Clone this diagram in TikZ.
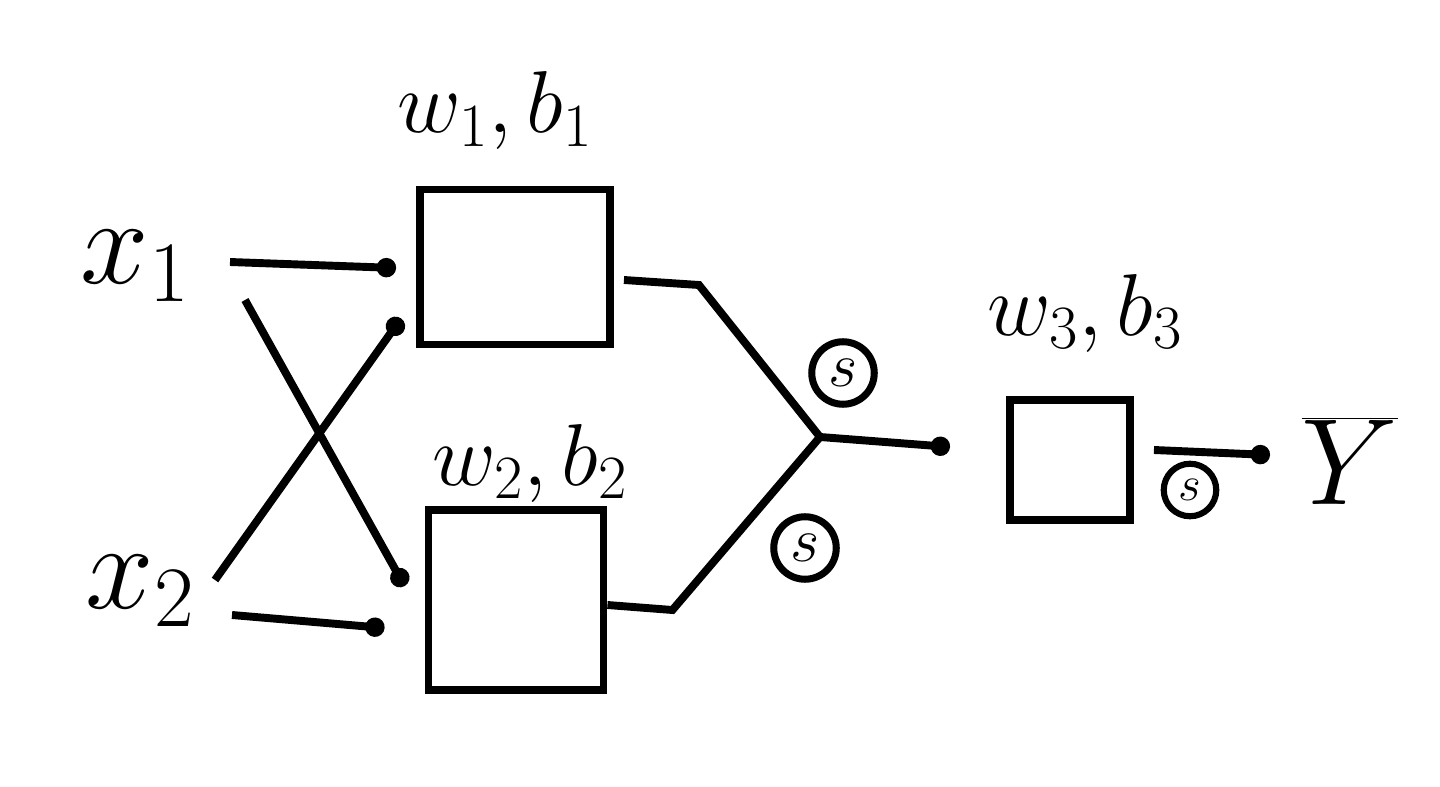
\documentclass[tikz,border=0pt]{standalone}
\usepackage{fix-cm}
\usetikzlibrary{arrows.meta,positioning,calc}

\begin{document}
\begin{tikzpicture}[
  every node/.style={font=\fontsize{50}{56}\selectfont},
  layer/.style={draw, line width=4.5pt, inner sep=0pt},
  conn/.style={-{Circle[length=11pt]}, line width=4.5pt},
  wire/.style={line width=4.5pt},
  sig/.style={draw, circle, line width=4pt, inner sep=0pt, minimum size=1.25cm, font=\fontsize{36}{38}\selectfont}
]
\useasboundingbox (0,0) rectangle (28.8,15.72);

% inputs
\node (x1) at (2.7,10.4) {\fontsize{70}{76}\selectfont$x_1$};
\node (x2) at (2.8,3.9) {\fontsize{70}{76}\selectfont$x_2$};

% hidden layer
\node[layer, minimum width=3.8cm, minimum height=3.1cm] (box1) at (10.3,10.38) {};
\node[layer, minimum width=3.5cm, minimum height=3.6cm] (box2) at (10.32,3.72) {};
\node (wb1) at (9.9,13.5) {$w_1, b_1$};
\node (wb2) at (10.6,6.45) {$w_2, b_2$};

% output layer
\node[layer, minimum width=2.4cm, minimum height=2.4cm] (box3) at (21.4,6.52) {};
\node (wb3) at (21.7,9.45) {$w_3, b_3$};
\node (yhat) at (27.0,6.5) {\fontsize{70}{76}\selectfont$\overline{Y}$};

% free ends of the wires
\coordinate (x1a) at ($(x1)+(1.9,0.08)$);
\coordinate (x1b) at ($(x1)+(2.2,-0.68)$);
\coordinate (x2a) at ($(x2)+(1.5,0.22)$);
\coordinate (x2b) at ($(x2)+(1.84,-0.48)$);
\coordinate (merge) at (16.4,6.98);
\coordinate (in3) at (19.0,6.78);
\coordinate (out3) at (25.4,6.62);

\draw[conn] (x1a) -- ([xshift=-0.4cm,yshift=-0.02cm]box1.west);
\draw[conn] (x1b) -- ([xshift=-0.4cm,yshift=-1.6cm]box2.north west);
\draw[conn] (x2a) -- ([xshift=-0.3cm,yshift=0.6cm]box1.south west);
\draw[conn] (x2b) -- ([xshift=-0.8cm,yshift=-0.56cm]box2.west);

\draw[wire] ([xshift=0.2cm,yshift=-0.26cm]box1.east) -- ++(1.5,-0.1) -- (merge);
\draw[wire] ([xshift=0.0cm,yshift=-0.1cm]box2.east) -- ++(1.3,-0.1) -- (merge);
\draw[conn] (merge) -- (in3);
\draw[conn] ([xshift=0.4cm,yshift=0.2cm]box3.east) -- (out3);

\node[sig] (s1) at (16.86,8.26) {$s$};
\node[sig] (s2) at (16.1,4.76) {$s$};
\node[sig, minimum size=1.05cm, line width=3.5pt, font=\fontsize{28}{30}\selectfont] (s3) at (23.8,5.92) {$s$};
\end{tikzpicture}
\end{document}
